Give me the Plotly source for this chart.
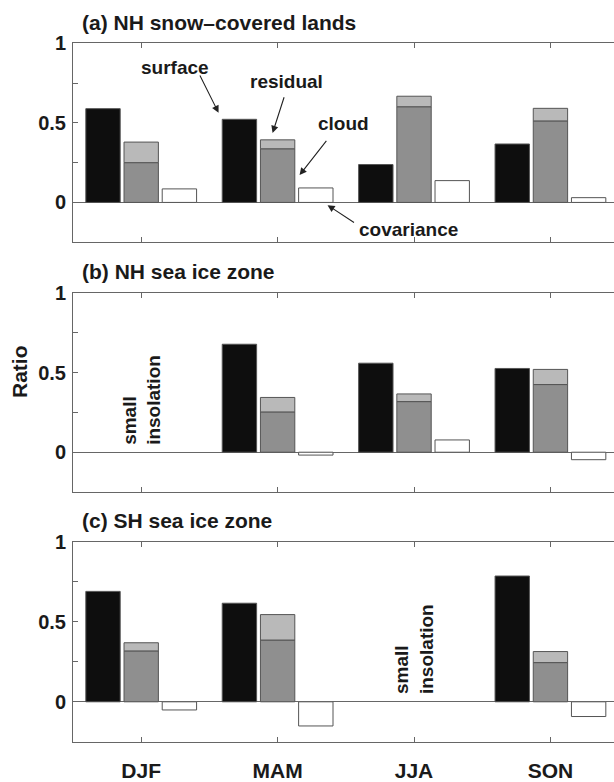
import plotly.graph_objects as go

seasons = ["DJF", "MAM", "JJA", "SON"]

# Panel (a) NH snow-covered lands
a_surface = [0.589, 0.522, 0.238, 0.367]
a_cloud = [0.250, 0.337, 0.601, 0.512]
a_total = [0.379, 0.393, 0.667, 0.591]
a_cov = [0.085, 0.091, 0.137, 0.030]

# Panel (b) NH sea ice zone (DJF: small insolation)
b_surface = [None, 0.678, 0.559, 0.526]
b_cloud = [None, 0.253, 0.318, 0.425]
b_total = [None, 0.344, 0.366, 0.520]
b_cov = [None, -0.018, 0.077, -0.047]

# Panel (c) SH sea ice zone (JJA: small insolation)
c_surface = [0.690, 0.616, None, 0.786]
c_cloud = [0.318, 0.386, None, 0.245]
c_total = [0.369, 0.545, None, 0.314]
c_cov = [-0.051, -0.151, None, -0.092]

panels = [
    ("(a) NH snow\u2013covered lands", a_surface, a_cloud, a_total, a_cov),
    ("(b) NH sea ice zone", b_surface, b_cloud, b_total, b_cov),
    ("(c) SH sea ice zone", c_surface, c_cloud, c_total, c_cov),
]

W, H = 614, 782
ydomains = [(1 - 237 / H, 1 - 33 / H), (1 - 493 / H, 1 - 289 / H), (1 - 749 / H, 1 - 544 / H)]

BLACK = "#0e0e0e"
CLOUD = "#8f8f8f"
RESID = "#b9b9b9"
WHITE = "#ffffff"
EDGE = "#555555"
AXC = "#666666"
TXT = "#1a1a1a"
FONT = "Liberation Sans, Arial, Helvetica, sans-serif"

fig = go.Figure()
annotations = []

for i, (title, surf, cloud, total, cov) in enumerate(panels):
    sfx = "" if i == 0 else str(i + 1)
    xa, ya = "x" + sfx, "y" + sfx
    resid = [None if t is None else t - c for t, c in zip(total, cloud)]
    line = dict(color=EDGE, width=1)
    fig.add_trace(go.Bar(x=seasons, y=surf, offsetgroup="s", marker=dict(color=BLACK, line=line),
                         xaxis=xa, yaxis=ya, name="surface", showlegend=False))
    fig.add_trace(go.Bar(x=seasons, y=cloud, offsetgroup="c", marker=dict(color=CLOUD, line=line),
                         xaxis=xa, yaxis=ya, name="cloud", showlegend=False))
    fig.add_trace(go.Bar(x=seasons, y=resid, base=cloud, offsetgroup="c", marker=dict(color=RESID, line=line),
                         xaxis=xa, yaxis=ya, name="residual", showlegend=False))
    fig.add_trace(go.Bar(x=seasons, y=cov, offsetgroup="v", marker=dict(color=WHITE, line=line),
                         xaxis=xa, yaxis=ya, name="covariance", showlegend=False))

    xkey = "xaxis" + sfx
    ykey = "yaxis" + sfx
    fig.update_layout(**{
        xkey: dict(domain=[0, 1], anchor=ya, type="category", categoryorder="array",
                   categoryarray=seasons, range=[-0.5, 3.466],
                   showline=True, linecolor=AXC, linewidth=1, mirror="ticks",
                   ticks="inside", ticklen=5, tickcolor=AXC, showgrid=False, zeroline=False,
                   showticklabels=(i == 2), ticklabelstandoff=10,
                   tickfont=dict(family=FONT, size=21, color=TXT, weight="bold")),
        ykey: dict(domain=list(ydomains[i]), anchor=xa, range=[-0.25, 1],
                   tickvals=[0, 0.25, 0.5, 0.75, 1], ticktext=["0", "", "0.5", "", "1"],
                   showline=True, linecolor=AXC, linewidth=1,
                   ticks="inside", ticklen=5, tickcolor=AXC, showgrid=False,
                   zeroline=True, zerolinecolor=AXC, zerolinewidth=1,
                   ticklabelstandoff=2,
                   tickfont=dict(family=FONT, size=20, color=TXT, weight="bold")),
    })
    annotations.append(dict(text=title, xref="paper", yref="paper", x=0.013, y=ydomains[i][1],
                            xanchor="left", yanchor="middle", yshift=21, showarrow=False,
                            font=dict(family=FONT, size=21, color=TXT, weight="bold")))

afont = dict(family=FONT, size=19, color=TXT, weight="bold")
# labels in panel (a): text position, arrow tail, arrow head (category index units)
labels_a = [
    ("surface", 0.247, 0.847, 0.425, 0.806, 0.567, 0.563),
    ("residual", 1.065, 0.761, 1.051, 0.670, 0.963, 0.436),
    ("cloud", 1.482, 0.497, 1.366, 0.396, 1.161, 0.172),
    ("covariance", 1.960, -0.172, 1.571, -0.132, 1.366, -0.017),
]
for txt, tx, ty, axx, ayy, hx, hy in labels_a:
    annotations.append(dict(text=txt, xref="x", yref="y", x=tx, y=ty, showarrow=False, font=afont))
    annotations.append(dict(text="", xref="x", yref="y", x=hx, y=hy, axref="x", ayref="y",
                            ax=axx, ay=ayy, showarrow=True, arrowhead=2, arrowsize=1.3,
                            arrowwidth=1.1, arrowcolor="#222222", standoff=0, startstandoff=0))

annotations.append(dict(text="small<br>insolation", xref="x2", yref="y2", x=0, y=0.33,
                        textangle=-90, align="left", showarrow=False, font=afont))
annotations.append(dict(text="small<br>insolation", xref="x3", yref="y3", x=2, y=0.33,
                        textangle=-90, align="left", showarrow=False, font=afont))
annotations.append(dict(text="Ratio", xref="paper", yref="paper", x=(19 - 73) / 541, y=1 - 370 / H,
                        textangle=-90, showarrow=False, xanchor="center", yanchor="middle",
                        font=dict(family=FONT, size=21, color=TXT, weight="bold")))

fig.update_layout(width=W, height=H, margin=dict(l=73, r=0, t=0, b=0),
                  barmode="group", bargap=0.16, bargroupgap=0.1,
                  plot_bgcolor="white", paper_bgcolor="white",
                  annotations=annotations, showlegend=False)

fig.write_html("out.html", config={"displayModeBar": False},
               post_script="document.body.style.margin='0';document.body.style.overflow='hidden';")
